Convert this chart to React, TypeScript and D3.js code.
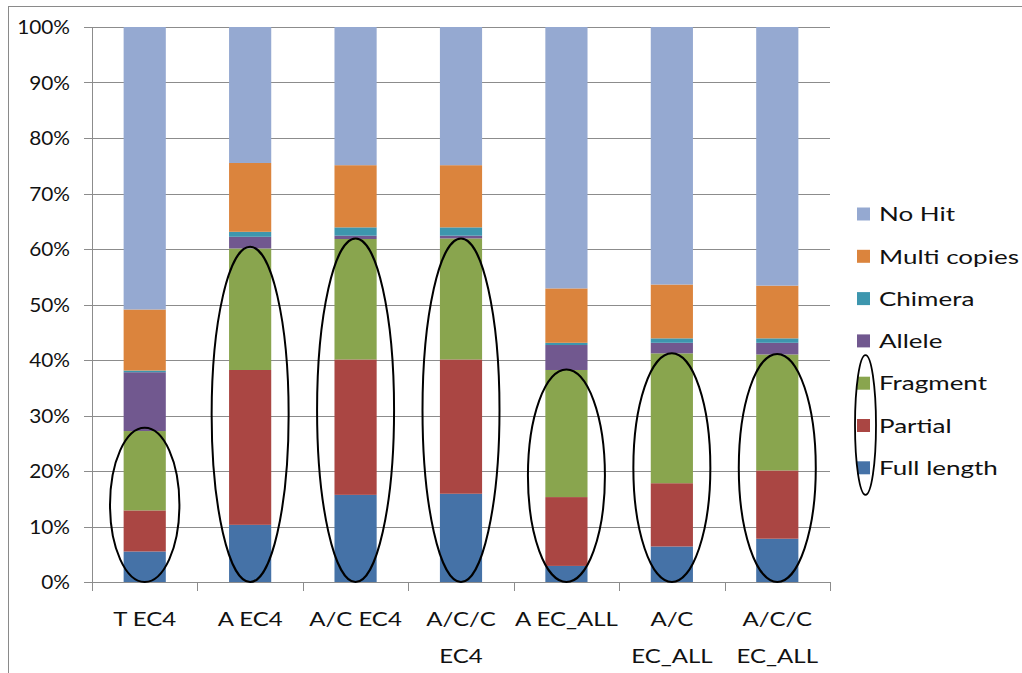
import React from "react";
import * as d3 from "d3";

const categoryLines: string[][] = [
  ["T EC4"],
  ["A EC4"],
  ["A/C EC4"],
  ["A/C/C", "EC4"],
  ["A EC_ALL"],
  ["A/C", "EC_ALL"],
  ["A/C/C", "EC_ALL"],
];
const categories = categoryLines.map((l) => l.join(" "));

const seriesNames = ["Full length", "Partial", "Fragment", "Allele", "Chimera", "Multi copies", "No Hit"];
const fullLength = [5.5, 10.3, 15.7, 15.9, 2.9, 6.4, 7.8];
const partial = [7.4, 27.9, 24.4, 24.2, 12.4, 11.4, 12.3];
const fragment = [14.3, 21.9, 21.7, 21.8, 22.9, 23.4, 20.9];
const allele = [10.6, 2.1, 0.6, 0.5, 4.5, 1.9, 2.1];
const chimera = [0.3, 0.9, 1.5, 1.5, 0.4, 0.8, 0.8];
const multiCopies = [11.0, 12.4, 11.2, 11.2, 9.8, 9.7, 9.5];
const noHit = [50.9, 24.5, 24.9, 24.9, 47.1, 46.4, 46.6];
const seriesValues = [fullLength, partial, fragment, allele, chimera, multiCopies, noHit];
const seriesColors = ["#4572A7", "#AA4643", "#89A54E", "#71588F", "#3D96AE", "#DB843D", "#95A9D1"];

const yTicks = [0, 10, 20, 30, 40, 50, 60, 70, 80, 90, 100];

// annotation ellipses: top of each ellipse in percent
const ellipseTop = [27.8, 60.4, 61.9, 61.9, 38.3, 41.2, 41.1];

const W = 1022;
const H = 673;
const FONT = "Lato, 'Open Sans', sans-serif";

export default function App() {
  const x = d3
    .scaleBand<string>()
    .domain(categories)
    .range([92, 830])
    .paddingInner(0.6)
    .paddingOuter(0.3);
  const y = d3.scaleLinear().domain([0, 1]).range([582, 27]);

  const rows = categories.map((c, i) => {
    const r: any = { cat: c };
    seriesNames.forEach((s, j) => (r[s] = seriesValues[j][i]));
    return r;
  });
  const stacked = d3.stack<any>().keys(seriesNames).offset(d3.stackOffsetExpand)(rows);

  const step = x.step();
  const boundaries = d3.range(categories.length + 1).map((i) => 92 + i * step);

  const legendOrder = [...seriesNames].reverse();
  const legendY0 = 214;
  const legendDy = 42.3;
  const legendX = 857;

  return (
    <svg
      width={W}
      height={H}
      style={{ position: "absolute", left: 0, top: 0, background: "#fff" }}
      fontFamily={FONT}
    >
      <rect x={0} y={0} width={W} height={H} fill="#fff" />
      {/* outer border */}
      <rect x={8.5} y={6.5} width={W + 10} height={H + 10} fill="none" stroke="#8a8a8a" strokeWidth={1} />

      {/* gridlines */}
      {yTicks.map((t) => (
        <line key={t} x1={84} x2={830} y1={Math.round(y(t / 100)) + 0.5} y2={Math.round(y(t / 100)) + 0.5} stroke="#8c8c8c" strokeWidth={1} />
      ))}
      {/* y axis */}
      <line x1={92.5} x2={92.5} y1={27} y2={582} stroke="#8c8c8c" />
      {/* x tick marks */}
      {boundaries.map((b, i) => (
        <line key={i} x1={Math.round(b) + 0.5} x2={Math.round(b) + 0.5} y1={582} y2={591} stroke="#8c8c8c" />
      ))}

      {/* y labels */}
      {yTicks.map((t) => (
        <text
          key={t}
          transform={`translate(70,${y(t / 100)}) scale(1.04,1)`}
          textAnchor="end"
          dy="0.36em"
          fontSize={20}
          fill="#111"
        >
          {t}%
        </text>
      ))}

      {/* bars */}
      {stacked.map((layer, j) => (
        <g key={layer.key} fill={seriesColors[j]}>
          {layer.map((d: any, i: number) => (
            <rect
              key={i}
              x={x(categories[i])}
              width={x.bandwidth()}
              y={y(d[1])}
              height={Math.max(0, y(d[0]) - y(d[1]))}
            />
          ))}
        </g>
      ))}

      {/* x labels */}
      {categoryLines.map((lines, i) => (
        <g key={i}>
          {lines.map((ln, k) => (
            <text
              key={k}
              transform={`translate(${(x(categories[i]) as number) + x.bandwidth() / 2},${625.5 + k * 37}) scale(1.2,1)`}
              textAnchor="middle"
              fontSize={20}
              fill="#111"
            >
              {ln}
            </text>
          ))}
        </g>
      ))}

      {/* annotation ellipses */}
      {ellipseTop.map((t, i) => {
        const top = y(t / 100);
        const bot = y(0);
        const cx = (x(categories[i]) as number) + x.bandwidth() / 2;
        return (
          <ellipse
            key={i}
            cx={cx}
            cy={(top + bot) / 2}
            rx={i === 0 ? 34.7 : 38.5}
            ry={(bot - top) / 2}
            fill="none"
            stroke="#000"
            strokeWidth={2}
          />
        );
      })}

      {/* legend */}
      {legendOrder.map((name, k) => {
        const j = seriesNames.indexOf(name);
        const cy = legendY0 + k * legendDy;
        return (
          <g key={name}>
            <rect x={legendX} y={cy - 6.5} width={13} height={13} fill={seriesColors[j]} />
            <text
              transform={`translate(879,${cy}) scale(1.3,1)`}
              dy="0.36em"
              fontSize={20}
              fill="#111"
            >
              {name}
            </text>
          </g>
        );
      })}
      <ellipse
        cx={legendX + 8.5}
        cy={(legendY0 + 4 * legendDy - 28 + legendY0 + 6 * legendDy + 27) / 2}
        rx={10.5}
        ry={(2 * legendDy + 55) / 2}
        fill="none"
        stroke="#000"
        strokeWidth={1.8}
      />
    </svg>
  );
}
